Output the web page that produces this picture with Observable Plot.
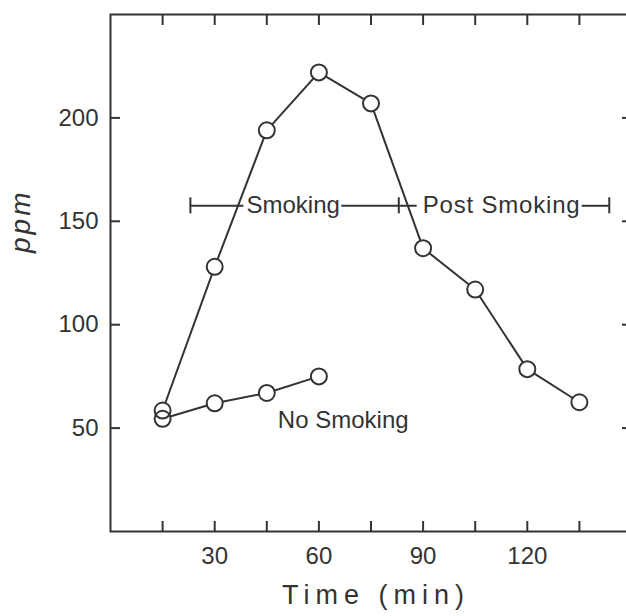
<!DOCTYPE html>
<html>
<head>
<meta charset="utf-8">
<script src="https://cdn.jsdelivr.net/npm/d3@7"></script>
<script src="https://cdn.jsdelivr.net/npm/@observablehq/plot@0.6"></script>
<style>
  html, body { margin: 0; padding: 0; background: #ffffff; }
  #chart { width: 626px; height: 616px; overflow: hidden; }
</style>
</head>
<body>
<div id="chart"></div>
<script>
// ---- data ----
const timeMin = [15, 30, 45, 60, 75, 90, 105, 120, 135];
const smokingPpm = [58.5, 128, 194, 222, 207, 137, 117, 78.5, 62.5];
const noSmokingTime = [15, 30, 45, 60];
const noSmokingPpm = [54.5, 62, 67, 75];

const xTicks = [15, 30, 45, 60, 75, 90, 105, 120, 135];
const xTickLabels = [30, 60, 90, 120];
const yTicks = [50, 100, 150, 200];

// period bracket ("Smoking" / "Post Smoking")
const bracketPpm = 157.5;
const bracketCaps = [23, 83, 143.6];
const bracketSegStart = [23, 66.6, 135.8];
const bracketSegEnd = [38.4, 88.3, 143.6];
const periodLabels = ["Smoking", "Post Smoking"];
const periodLabelX = [52.6, 112.6];

const noSmokingLabel = "No Smoking";
const noSmokingLabelX = 67;
const noSmokingLabelY = 53.8;

// ---- tables built from the arrays ----
const smoking = timeMin.map((t, i) => ({t, v: smokingPpm[i]}));
const noSmoking = noSmokingTime.map((t, i) => ({t, v: noSmokingPpm[i]}));
const allDots = smoking.concat(noSmoking);
const segs = bracketSegStart.map((s, i) => ({s, e: bracketSegEnd[i]}));
const periods = periodLabels.map((name, i) => ({name, x: periodLabelX[i]}));

const ink = "#333333";

const chart = Plot.plot({
  width: 626,
  height: 616,
  marginLeft: 110,
  marginRight: -5,
  marginTop: 14,
  marginBottom: 85,
  x: {domain: [0, 150]},
  y: {domain: [0, 250]},
  style: {
    fontFamily: "'Liberation Sans', Arial, sans-serif",
    color: ink,
    background: "white",
    overflow: "hidden"
  },
  marks: [
    Plot.frame({stroke: ink, strokeWidth: 2}),
    // inward ticks on all four sides
    Plot.axisX({ticks: xTicks, anchor: "bottom", tickSize: -10, tickFormat: () => "", strokeWidth: 2, label: null}),
    Plot.axisX({ticks: xTicks, anchor: "top", tickSize: -10, tickFormat: () => "", strokeWidth: 2, label: null}),
    Plot.axisY({ticks: yTicks, anchor: "left", tickSize: -10, tickFormat: () => "", strokeWidth: 2, label: null}),
    Plot.axisY({ticks: yTicks, anchor: "right", tickSize: -10, tickFormat: () => "", strokeWidth: 2, label: null}),
    // tick labels
    Plot.axisX({ticks: xTickLabels, anchor: "bottom", tickSize: 0, tickPadding: 15, fontSize: 24, tickFormat: d => String(d), label: null}),
    Plot.axisY({ticks: yTicks, anchor: "left", tickSize: 0, tickPadding: 12, fontSize: 24, tickFormat: d => String(d), label: null}),
    // axis titles
    Plot.text(["Time (min)"], {frameAnchor: "bottom", dx: 5, dy: 72, fontSize: 27, fill: ink}),
    Plot.text(["ppm"], {frameAnchor: "left", dx: -89, dy: -20, rotate: -90, fontSize: 28, fontStyle: "italic", fill: ink}),
    // period bracket
    Plot.ruleY(segs, {x1: "s", x2: "e", y: bracketPpm, stroke: ink, strokeWidth: 2}),
    Plot.ruleX(bracketCaps, {x: d => d, y1: bracketPpm, y2: bracketPpm, insetTop: -8, insetBottom: -8, stroke: ink, strokeWidth: 2}),
    Plot.text(periods, {x: "x", y: bracketPpm, text: "name", fontSize: 24, fill: ink}),
    // series
    Plot.line(smoking, {x: "t", y: "v", stroke: ink, strokeWidth: 2}),
    Plot.line(noSmoking, {x: "t", y: "v", stroke: ink, strokeWidth: 2}),
    Plot.dot(allDots, {x: "t", y: "v", r: 8, fill: "white", stroke: "none"}),
    Plot.dot(allDots, {x: "t", y: "v", r: 8, fill: "none", stroke: ink, strokeWidth: 2}),
    Plot.text([noSmokingLabel], {x: noSmokingLabelX, y: noSmokingLabelY, fontSize: 24, fill: ink})
  ]
});

document.getElementById("chart").appendChild(chart);
d3.select(chart).selectAll("text").each(function () {
  const t = this.textContent;
  if (t === "Time (min)") this.style.letterSpacing = "6px";
  else if (t === "ppm") this.style.letterSpacing = "3px";
  else if (t === "Post Smoking") this.style.letterSpacing = "0.8px";
});
</script>
</body>
</html>
